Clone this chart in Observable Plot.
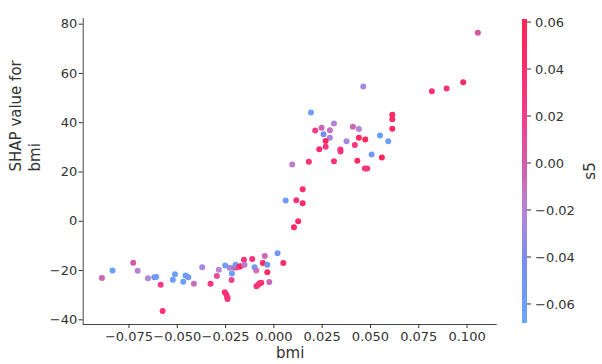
<!DOCTYPE html>
<html><head><meta charset="utf-8">
<script src="https://cdn.jsdelivr.net/npm/d3@7"></script>
<script src="https://cdn.jsdelivr.net/npm/@observablehq/plot@0.6"></script>
<style>
body{margin:0;background:#fff;overflow:hidden}
#chart svg{display:block}
svg{font-family:"DejaVu Sans",sans-serif}
</style>
</head><body><div id="chart"></div>
<script>
const bmi = [-0.0890,-0.0835,-0.0728,-0.0705,-0.0652,-0.0619,-0.0609,-0.0586,-0.0576,-0.0512,
 -0.0523,-0.0469,-0.0457,-0.0443,-0.0414,-0.0371,-0.0328,-0.0295,-0.0285,-0.0252,
 -0.0254,-0.0246,-0.0241,-0.0240,-0.0219,-0.0217,-0.0229,-0.0207,-0.0195,-0.0198,
 -0.0181,-0.0172,-0.0155,-0.0152,-0.0112,-0.0100,-0.0091,-0.0090,-0.0081,-0.0074,
 -0.0065,-0.0057,-0.0047,-0.0034,-0.0034,-0.0024,0.0019,0.0049,0.0061,0.0104,
 0.0126,0.0116,0.0149,0.0149,0.0095,0.0181,0.0311,0.0432,0.0463,0.0192,
 0.0613,0.0613,0.0613,0.0247,0.0311,0.0214,0.0290,0.0257,0.0290,0.0268,
 0.0268,0.0235,0.0344,0.0345,0.0409,0.0440,0.0376,0.0440,0.0473,0.0419,
 0.0549,0.0592,0.0506,0.0559,0.0471,0.0483,0.1056,0.0980,0.0894,0.0818];
const shap = [-23.0,-20.0,-16.8,-20.1,-23.1,-22.7,-22.6,-25.8,-36.4,-21.5,
 -23.7,-24.5,-22.0,-22.7,-25.4,-18.7,-25.4,-22.2,-19.7,-18.0,
 -28.8,-29.8,-30.9,-31.5,-23.8,-21.2,-18.9,-18.9,-18.8,-17.6,
 -18.5,-18.3,-15.6,-17.6,-15.3,-18.7,-20.0,-26.4,-25.8,-25.2,
 -25.0,-16.9,-14.1,-17.6,-20.7,-24.6,-13.0,-16.9,8.4,-2.4,
 0.0,8.5,7.3,13.0,23.0,24.2,24.4,24.6,54.7,44.1,
 43.2,41.4,37.6,38.0,39.7,36.8,36.9,35.3,33.9,32.6,
 30.2,29.2,29.1,28.3,38.4,37.4,32.5,33.9,33.2,31.0,
 34.8,32.5,27.1,25.9,21.4,21.4,76.5,56.4,53.9,52.8];
const s5 = [-0.005,-0.06,0.0,-0.02,-0.02,-0.055,-0.055,0.02,0.035,-0.06,
 -0.06,-0.06,-0.06,-0.05,-0.01,-0.025,0.03,0.01,-0.02,-0.06,
 0.035,0.035,0.035,0.035,0.015,-0.06,-0.025,-0.01,0.0,-0.06,
 0.03,0.045,0.03,-0.015,0.03,-0.055,-0.01,0.03,0.03,0.035,
 0.035,0.05,-0.005,-0.055,0.045,-0.005,-0.055,0.04,-0.055,0.05,
 0.05,0.03,0.04,0.04,-0.015,0.035,0.03,0.05,-0.025,-0.06,
 0.05,0.04,0.05,-0.005,-0.02,0.02,-0.01,-0.04,-0.025,0.05,
 0.03,0.04,0.03,0.03,-0.005,-0.02,-0.025,0.05,0.055,0.03,
 -0.06,-0.06,-0.055,0.055,0.03,0.03,0.005,0.05,0.035,0.035];
const xTicks = [-0.075,-0.05,-0.025,0,0.025,0.05,0.075,0.1];
const yTicks = [-40,-20,0,20,40,60,80];
const cTicks = [-0.06,-0.04,-0.02,0,0.02,0.04,0.06];
const colorStops = [-0.0681,-0.06,-0.04,-0.02,0.0,0.02,0.04,0.0613];
const colorRange = ["#6aa8fb","#6b9ff8","#7a8cef","#b585d8","#d35aa8","#f53a8c","#ff2d6e","#ff2652"];

const data = bmi.map((b,i)=>({bmi:b, shap:shap[i], s5:s5[i]}));
const xDom = [-0.0987,0.1156], yDom = [-41.9,82.3];
const chart = Plot.plot({
  width:602, height:364, marginLeft:82.7, marginRight:105.3, marginTop:18, marginBottom:40,
  style:{fontFamily:"DejaVu Sans, sans-serif", fontSize:"13px", color:"#333", background:"#fff"},
  x:{domain:xDom},
  y:{domain:yDom},
  color:{type:"linear", domain:colorStops, range:colorRange, interpolate:"lab"},
  marks:[
    Plot.ruleX([xDom[0]], {stroke:"#444", strokeWidth:1}),
    Plot.ruleY([yDom[0]], {stroke:"#444", strokeWidth:1}),
    Plot.axisX({ticks:xTicks, tickSize:4, tickPadding:3, tickFormat:d3.format(".3f"), label:null, fontSize:13}),
    Plot.axisY({ticks:yTicks, tickSize:4, tickPadding:2, tickFormat:d3.format("d"), label:null, fontSize:13}),
    Plot.dot(data, {x:"bmi", y:"shap", fill:"s5", r:3}),
    Plot.text(["SHAP value for\nbmi"], {frameAnchor:"left", dx:-59, rotate:-90, fontSize:15, lineHeight:1.25, fill:"#333"}),
    Plot.text(["bmi"], {frameAnchor:"bottom", dy:33, fontSize:15, fill:"#333"})
  ]
});
document.getElementById("chart").appendChild(chart);
const svg = d3.select(chart);

// colorbar
const d0 = colorStops[0], d1 = colorStops[colorStops.length-1];
const cy = d3.scaleLinear().domain([d0, d1]).range([323,19]);
const cfun = d3.scaleLinear().domain(colorStops).range(colorRange).interpolate(d3.interpolateLab);
const defs = svg.append("defs");
const grad = defs.append("linearGradient").attr("id","cbgrad").attr("x1","0").attr("y1","1").attr("x2","0").attr("y2","0");
d3.range(0,1.0001,0.05).forEach(t=>{
  grad.append("stop").attr("offset", t).attr("stop-color", cfun(d0 + t*(d1-d0)));
});
const cb = svg.append("g").attr("font-family","DejaVu Sans, sans-serif");
cb.append("rect").attr("x",522).attr("y",19).attr("width",5).attr("height",304).attr("fill","url(#cbgrad)");
cTicks.forEach(v=>{
  cb.append("line").attr("x1",527).attr("x2",531).attr("y1",cy(v)).attr("y2",cy(v)).attr("stroke","#333");
  cb.append("text").attr("x",535).attr("y",cy(v)).attr("dy","0.35em").attr("text-anchor","start")
    .style("font-size","13px").attr("fill","#333").text(d3.format(".2f")(v));
});
cb.append("text").attr("transform","translate(590,171) rotate(-90)").attr("text-anchor","middle")
  .attr("dy","0.35em").style("font-size","15px").attr("fill","#333").text("s5");
</script></body></html>
